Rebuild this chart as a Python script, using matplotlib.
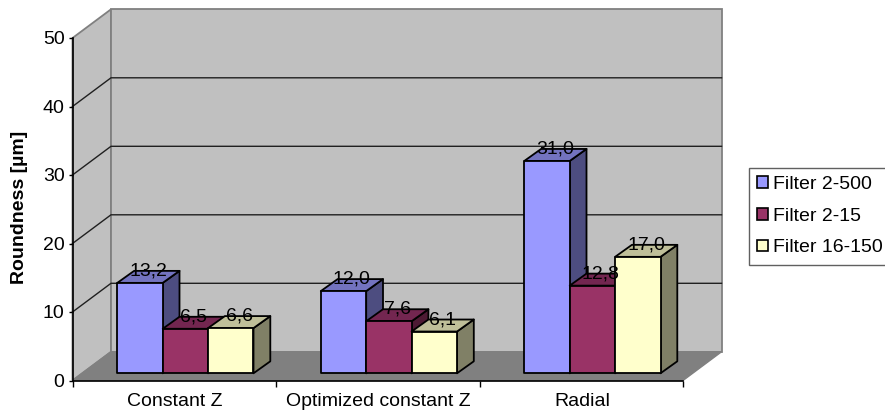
import matplotlib
matplotlib.use("Agg")
import matplotlib.pyplot as plt
from matplotlib.patches import Polygon, Patch

categories = ["Constant Z", "Optimized constant Z", "Radial"]
series_names = ["Filter 2-500", "Filter 2-15", "Filter 16-150"]
filter_2_500 = [13.2, 12.0, 31.0]
filter_2_15 = [6.5, 7.6, 12.8]
filter_16_150 = [6.6, 6.1, 17.0]
value_labels = [["13,2", "12,0", "31,0"], ["6,5", "7,6", "12,8"], ["6,6", "6,1", "17,0"]]
yticks = [0, 10, 20, 30, 40, 50]

face = ["#9999FF", "#993366", "#FFFFCC"]
top = ["#7373BF", "#732650", "#BFBF99"]
side = ["#4D4D80", "#4D1A33", "#808066"]

W, H = 885, 412
plt.rcParams["font.family"] = ["Liberation Sans", "DejaVu Sans"]
FS = 14
fig = plt.figure(figsize=(W / 100, H / 100), dpi=100)
L, R, B, T = 72.5, 683.0, 380.5, 38.0
ax = fig.add_axes([L / W, 1 - B / H, (R - L) / W, (B - T) / H])
ax.set_xlim(0, 3)
ax.set_ylim(0, 50)
ax.patch.set_visible(False)
for s in ax.spines.values():
    s.set_visible(False)
px = 3 / (R - L)
py = 50 / (B - T)
DX, DY = 38.5 * px, 28.7 * py

# walls and floor
wall_kw = dict(closed=True, clip_on=False, zorder=1)
ax.add_patch(Polygon([(0, 0), (DX, DY), (DX, 50 + DY), (0, 50)], fc="#C0C0C0", ec="#808080", lw=1.3, **wall_kw))
ax.add_patch(Polygon([(DX, DY), (3 + DX, DY), (3 + DX, 50 + DY), (DX, 50 + DY)], fc="#C0C0C0", ec="#808080", lw=1.3, **wall_kw))
ax.add_patch(Polygon([(0, 0), (3, 0), (3 + DX, DY), (DX, DY)], fc="#808080", ec="#808080", lw=1, **wall_kw))
for v in yticks[1:-1]:
    ax.plot([0, DX, 3 + DX], [v, v + DY, v + DY], color="#202020", lw=1, clip_on=False, zorder=2)

# bars
all_vals = [filter_2_500, filter_2_15, filter_16_150]
BW = 45.4 * px
X0 = 44.8 * px
OFFX, OFFY = 9.7 * px, 7.2 * py
BDX, BDY = 16.8 * px, 12.0 * py
edge = dict(closed=True, ec="black", lw=1.3, clip_on=False, zorder=3, joinstyle="round")
for c in range(len(categories)):
    for s, vals in enumerate(all_vals):
        x0 = c + X0 + s * BW
        x1 = x0 + BW
        y0 = OFFY
        y1 = OFFY + vals[c]
        ax.add_patch(Polygon([(x1, y0), (x1 + BDX, y0 + BDY), (x1 + BDX, y1 + BDY), (x1, y1)], fc=side[s], **edge))
        ax.add_patch(Polygon([(x0, y1), (x1, y1), (x1 + BDX, y1 + BDY), (x0 + BDX, y1 + BDY)], fc=top[s], **edge))
        ax.add_patch(Polygon([(x0, y0), (x1, y0), (x1, y1), (x0, y1)], fc=face[s], **edge))
for c in range(len(categories)):
    for s, vals in enumerate(all_vals):
        xc = c + X0 + s * BW + BW / 2 + BDX / 2
        ax.text(xc, OFFY + vals[c] + BDY, value_labels[s][c], ha="center", va="center",
                fontsize=FS, color="#000000", clip_on=False, zorder=5)

# axes furniture
ax.plot([0, 0], [0, 50], color="black", lw=1.2, clip_on=False, zorder=4)
ax.plot([0, 3], [0, 0], color="black", lw=1.2, clip_on=False, zorder=4)
ax.set_yticks(yticks)
ax.set_yticklabels([str(v) for v in yticks], fontsize=FS)
ax.set_xticks([0, 1, 2, 3])
ax.set_xticklabels([])
ax.tick_params(axis="y", length=3.2, width=1, pad=2.5, color="black")
ax.tick_params(axis="x", length=4, width=1, color="black")
for i, cat in enumerate(categories):
    ax.annotate(cat, xy=(i + 0.5, 0), xytext=(0.5, -21 * 0.72), textcoords="offset points",
                ha="center", va="center", fontsize=FS, annotation_clip=False)
fig.text(20 / W, 1 - 207 / H, "Roundness [µm]", rotation=90, ha="center", va="center",
         fontsize=FS, fontweight="bold")

handles = [Patch(fc=face[i], ec="black", lw=1.2, label=series_names[i]) for i in range(3)]
leg = fig.legend(handles=handles, loc="upper left",
                 bbox_to_anchor=(749.3 / W, 1 - 167.7 / H), bbox_transform=fig.transFigure,
                 fontsize=FS, frameon=True, fancybox=False, framealpha=1,
                 edgecolor="#606060", borderaxespad=0, borderpad=0.42,
                 handlelength=0.55, handleheight=0.55, handletextpad=0.25, labelspacing=0.76)
leg.get_frame().set_linewidth(1)
fig.savefig("out.png", dpi=100)
